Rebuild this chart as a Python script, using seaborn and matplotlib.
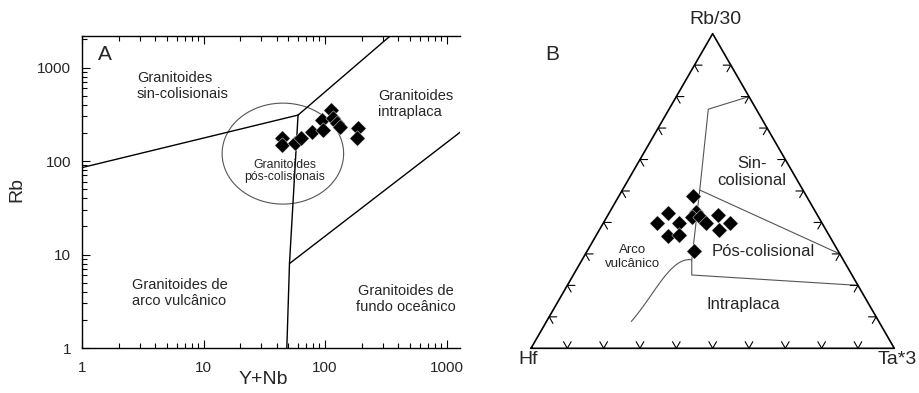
import numpy as np
import pandas as pd
import matplotlib
matplotlib.use("Agg")
import matplotlib.pyplot as plt
import seaborn as sns
from matplotlib.ticker import FixedLocator, NullFormatter, LogLocator

sns.set_style("ticks")
plt.rcParams["font.family"] = ["Liberation Sans", "DejaVu Sans"]

W, H = 919, 393

# ---------------- Panel A data (Pearce et al. Rb vs Y+Nb) ----------------
a_ynb = [44, 44, 57, 64, 78, 94, 96, 113, 116, 125, 133, 187, 182]
a_rb = [175, 148, 155, 175, 206, 275, 215, 351, 286, 253, 233, 224, 175]

# field boundaries (Y+Nb, Rb)
bnd_syn_vag_x = [1, 60]
bnd_syn_vag_y = [85, 310]
bnd_syn_wpg_x = [60, 343]
bnd_syn_wpg_y = [310, 2170]
bnd_vag_x = [60, 51, 48.5]
bnd_vag_y = [310, 8, 1]
bnd_org_x = [51, 2000]
bnd_org_y = [8, 314]
ellipse_center = (45, 120)
ellipse_half_decades = (0.50, 0.54)

a_xticks = [1, 10, 100, 1000]
a_yticks = [1, 10, 100, 1000]
a_xlabels = ["1", "10", "100", "1000"]
a_ylabels = ["1", "10", "100", "1000"]

# ---------------- Panel B data (Harris et al. Hf - Rb/30 - Ta*3) ----------------
b_rb30 = [0.484, 0.431, 0.434, 0.416, 0.417, 0.424, 0.397, 0.397, 0.397, 0.397,
          0.376, 0.357, 0.360, 0.310]
b_ta3 = [0.205, 0.161, 0.237, 0.234, 0.257, 0.302, 0.149, 0.209, 0.283, 0.349,
         0.330, 0.199, 0.228, 0.294]

line1_rb = [0.80, 0.760, 0.503, 0.281, 0.233, 0.20]
line1_ta = [0.20, 0.108, 0.213, 0.302, 0.326, 0.80]
line2_rb = [0.503, 0.30]
line2_ta = [0.213, 0.70]
line3_rb = [0.281, 0.273, 0.2425, 0.192, 0.141, 0.085]
line3_ta = [0.302, 0.274, 0.256, 0.248, 0.244, 0.233]
tick_fracs = [0.1, 0.2, 0.3, 0.4, 0.5, 0.6, 0.7, 0.8, 0.9]


def tern(rb, ta):
    rb = np.asarray(rb, float)
    ta = np.asarray(ta, float)
    return ta + rb / 2.0, rb * np.sqrt(3) / 2.0


def P(px, py):
    return px / W, 1 - py / H


fig = plt.figure(figsize=(W / 100, H / 100), dpi=100)

# ================= Panel A =================
axA = fig.add_axes([82 / W, (H - 348) / H, (460 - 82) / W, (348 - 36) / H])
axA.set_xscale("log")
axA.set_yscale("log")
axA.set_xlim(1, 1291)
axA.set_ylim(1, 2173)

dfA = pd.DataFrame({"YNb": a_ynb, "Rb": a_rb})
sns.scatterplot(data=dfA, x="YNb", y="Rb", marker="D", s=62, color="black",
                edgecolor="white", linewidth=0.3, ax=axA, zorder=5, legend=False)

for xs, ys in [(bnd_syn_vag_x, bnd_syn_vag_y), (bnd_syn_wpg_x, bnd_syn_wpg_y),
               (bnd_vag_x, bnd_vag_y), (bnd_org_x, bnd_org_y)]:
    axA.plot(xs, ys, color="black", lw=1.0, zorder=3)

t = np.linspace(0, 2 * np.pi, 300)
ex = 10 ** (np.log10(ellipse_center[0]) + ellipse_half_decades[0] * np.cos(t))
ey = 10 ** (np.log10(ellipse_center[1]) + ellipse_half_decades[1] * np.sin(t))
axA.plot(ex, ey, color="#555555", lw=0.8, zorder=2)

axA.xaxis.set_major_locator(FixedLocator(a_xticks))
axA.yaxis.set_major_locator(FixedLocator(a_yticks))
axA.set_xticklabels(a_xlabels)
axA.set_yticklabels(a_ylabels)
axA.xaxis.set_minor_locator(LogLocator(base=10, subs=np.arange(2, 10)))
axA.yaxis.set_minor_locator(LogLocator(base=10, subs=np.arange(2, 10)))
axA.xaxis.set_minor_formatter(NullFormatter())
axA.yaxis.set_minor_formatter(NullFormatter())
axA.tick_params(which="both", direction="in", top=True, bottom=True, left=True,
                right=False, color="black", width=0.8)
axA.tick_params(which="major", length=6, labelsize=11)
axA.tick_params(which="minor", length=3.5)
axA.tick_params(axis="x", which="major", pad=9)
axA.tick_params(axis="y", which="major", pad=8)
axA.spines["right"].set_visible(False)
for s in ["left", "top", "bottom"]:
    axA.spines[s].set_linewidth(1.0)
    axA.spines[s].set_color("black")
axA.set_xlabel("")
axA.set_ylabel("")

fig.text(*P(17, 190), "Rb", rotation=90, ha="center", va="center", fontsize=14)
fig.text(*P(263, 379), "Y+Nb", ha="center", va="center", fontsize=14)
fig.text(*P(105, 55), "A", ha="center", va="center", fontsize=15)

fs = 10.5
fig.text(*P(137, 86), "Granitoides\nsin-colisionais", ha="left", va="center",
         fontsize=fs, linespacing=1.15)
fig.text(*P(378, 104), "Granitoides\nintraplaca", ha="left", va="center",
         fontsize=fs, linespacing=1.15)
fig.text(*P(285, 171), "Granitoides\npós-colisionais", ha="center", va="center",
         fontsize=8.8, linespacing=1.1)
fig.text(*P(132, 293), "Granitoides de\narco vulcânico", ha="left", va="center",
         fontsize=fs, linespacing=1.15)
fig.text(*P(406, 299), "Granitoides de\nfundo oceânico", ha="center", va="center",
         fontsize=fs, linespacing=1.15)

# ================= Panel B =================
side = 363.3
axB = fig.add_axes([531 / W, (H - 348.3) / H, side / W, side * np.sqrt(3) / 2 / H])
axB.set_xlim(0, 1)
axB.set_ylim(0, np.sqrt(3) / 2)
axB.set_axis_off()

# triangle frame
fx, fy = tern([0, 1, 0, 0], [0, 0, 1, 0])
axB.plot(fx, fy, color="black", lw=1.2, clip_on=False, zorder=3)

# ticks: two short arms parallel to the other edges
L = 0.021
ang = np.deg2rad
for f in tick_fracs:
    for a1, a2, q in [(60, 120, np.array([f, 0.0])),
                      (0, -60, np.array([f / 2, f * np.sqrt(3) / 2])),
                      (180, 240, np.array([1 - f / 2, f * np.sqrt(3) / 2]))]:
        e1 = q + L * np.array([np.cos(ang(a1)), np.sin(ang(a1))])
        e2 = q + L * np.array([np.cos(ang(a2)), np.sin(ang(a2))])
        axB.plot([e1[0], q[0], e2[0]], [e1[1], q[1], e2[1]], color="black",
                 lw=0.8, clip_on=False, zorder=3)

for rbs, tas in [(line1_rb, line1_ta), (line2_rb, line2_ta)]:
    x, y = tern(rbs, tas)
    axB.plot(x, y, color="#555555", lw=0.8, zorder=2, clip_on=False)

# smooth curved boundary
cx, cy = tern(line3_rb, line3_ta)
tt = np.arange(len(cx))
ts = np.linspace(0, len(cx) - 1, 100)
px = np.polyval(np.polyfit(tt, cx, 3), ts)
py = np.polyval(np.polyfit(tt, cy, 3), ts)
px[0], py[0] = cx[0], cy[0]
axB.plot(px, py, color="#555555", lw=0.8, zorder=2, clip_on=False)

bx, by = tern(b_rb30, b_ta3)
dfB = pd.DataFrame({"x": bx, "y": by})
sns.scatterplot(data=dfB, x="x", y="y", marker="D", s=62, color="black",
                edgecolor="white", linewidth=0.3, ax=axB, zorder=5, legend=False,
                clip_on=False)
axB.set_xlabel("")
axB.set_ylabel("")

fig.text(*P(715, 19), "Rb/30", ha="center", va="center", fontsize=14)
fig.text(*P(528, 360), "Hf", ha="center", va="center", fontsize=14)
fig.text(*P(897, 360), "Ta*3", ha="center", va="center", fontsize=14)
fig.text(*P(552, 54), "B", ha="center", va="center", fontsize=15)
fig.text(*P(752, 172), "Sin-\ncolisional", ha="center", va="center",
         fontsize=12, linespacing=1.15)
fig.text(*P(763, 252), "Pós-colisional", ha="center", va="center", fontsize=12)
fig.text(*P(633, 257), "Arco\nvulcânico", ha="center", va="center",
         fontsize=9.5, linespacing=1.15)
fig.text(*P(743, 305), "Intraplaca", ha="center", va="center", fontsize=12)

fig.savefig("out.png", dpi=100, facecolor="white")
